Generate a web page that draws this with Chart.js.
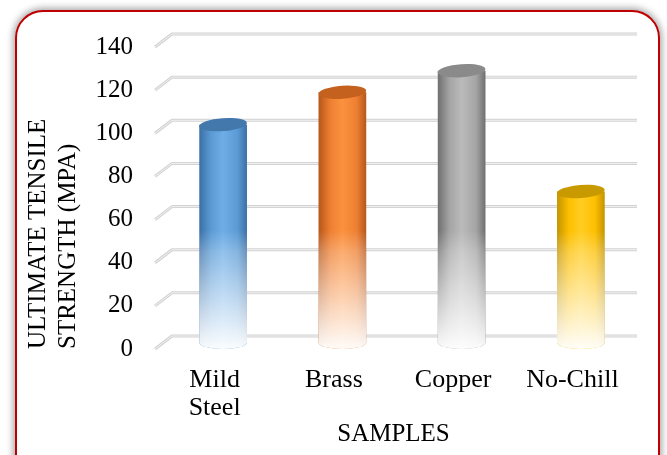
<!DOCTYPE html>
<html>
<head>
<meta charset="utf-8">
<script src="https://cdn.jsdelivr.net/npm/chart.js@4.4.0/dist/chart.umd.min.js"></script>
<style>
  html, body { margin: 0; padding: 0; background: #fff; overflow: hidden; }
  #wrap { position: relative; width: 667px; height: 455px; }
  #frame {
    position: absolute; left: 15px; top: 10px; width: 641px; height: 470px;
    border: 2px solid #c00000; border-radius: 28px; background: #fff;
    box-shadow: 0 0 7px 2px rgba(0,0,0,0.35);
  }
  #chart { position: absolute; left: 0; top: 0; }
</style>
</head>
<body>
<div id="wrap">
  <div id="frame"></div>
  <canvas id="chart" width="667" height="455"></canvas>
</div>
<script>
var categories = [['Mild', 'Steel'], 'Brass', 'Copper', 'No-Chill'];
var strengths = [101, 116, 126, 70];
var yTicks = [0, 20, 40, 60, 80, 100, 120, 140];

// cylinder shades: edge, body, highlight, top
var shades = [
    ['#3b6fa6', '#5b9bd5', '#6eade6', '#4278ab'],
    ['#b5571a', '#ee7f32', '#fb923f', '#c4611f'],
    ['#6f6f6f', '#a5a5a5', '#bababa', '#8a8a8a'],
    ['#c49400', '#fdbf00', '#ffcd22', '#c89a00']
];

// floor depth: back plane is up/right of the front plane
var depthX = 17, depthY = -13;

var floorGrid = {
    id: 'floorGrid',
    beforeDatasetsDraw: function(chart) {
        var ctx = chart.ctx, area = chart.chartArea, y = chart.scales.y;
        ctx.save();
        ctx.lineJoin = 'round';
        yTicks.forEach(function(v) {
            var fy = y.getPixelForValue(v);
            var x0 = area.left, x1 = x0 + depthX, x2 = area.right + 5;
            ctx.beginPath();
            ctx.moveTo(x0, fy);
            ctx.lineTo(x1, fy + depthY);
            ctx.lineTo(x2, fy + depthY);
            ctx.strokeStyle = '#d2d2d2';
            ctx.lineWidth = 3;
            ctx.stroke();
            ctx.strokeStyle = '#f2f2f2';
            ctx.lineWidth = 1;
            ctx.stroke();
        });
        ctx.restore();
    }
};

var cylinders = {
    id: 'cylinders',
    afterDatasetsDraw: function(chart) {
        var ctx = chart.ctx, yScale = chart.scales.y;
        var meta = chart.getDatasetMeta(0);
        var fadeTop = yScale.getPixelForValue(52) + depthY / 2;
        meta.data.forEach(function(bar, i) {
            var p = bar.getProps(['x', 'y', 'base', 'width'], true);
            var s = shades[i];
            var cx = p.x + depthX / 2;
            var w = p.width, l = cx - w / 2, r = cx + w / 2;
            var top = p.y + depthY / 2, bot = p.base + depthY / 2;
            var ry = 6.5;
            var fy = Math.min(fadeTop, bot);

            ctx.save();
            ctx.beginPath();
            ctx.moveTo(l, top);
            ctx.lineTo(l, bot);
            ctx.ellipse(cx, bot, w / 2, ry, 0, Math.PI, 0, true);
            ctx.lineTo(r, top);
            ctx.closePath();
            var g = ctx.createLinearGradient(l, 0, r, 0);
            g.addColorStop(0, s[0]);
            g.addColorStop(0.25, s[1]);
            g.addColorStop(0.5, s[2]);
            g.addColorStop(0.8, s[1]);
            g.addColorStop(1, s[0]);
            ctx.fillStyle = g;
            ctx.fill();
            ctx.clip();
            var f = ctx.createLinearGradient(0, fy, 0, bot + ry);
            f.addColorStop(0, 'rgba(255,255,255,0)');
            f.addColorStop(0.18, 'rgba(255,255,255,0.25)');
            f.addColorStop(0.6, 'rgba(255,255,255,0.62)');
            f.addColorStop(1, 'rgba(255,255,255,0.97)');
            ctx.fillStyle = f;
            ctx.fillRect(l - 2, fy, w + 4, bot + ry - fy + 2);
            ctx.restore();

            ctx.save();
            ctx.beginPath();
            ctx.ellipse(cx, top, w / 2, ry, -0.07, 0, Math.PI * 2);
            ctx.fillStyle = s[3];
            ctx.fill();
            ctx.restore();
        });
    }
};

var serif = 'Liberation Serif';

new Chart(document.getElementById('chart').getContext('2d'), {
    type: 'bar',
    data: {
        labels: categories,
        datasets: [{
            label: 'Ultimate tensile strength',
            data: strengths,
            backgroundColor: 'rgba(0,0,0,0)',
            borderWidth: 0,
            barPercentage: 0.4,
            categoryPercentage: 1
        }]
    },
    options: {
        responsive: false,
        animation: false,
        devicePixelRatio: 1,
        layout: { padding: { top: 47, right: 35, left: 0, bottom: 0 } },
        plugins: { legend: { display: false }, tooltip: { enabled: false } },
        scales: {
            x: {
                grid: { display: false, drawTicks: false },
                border: { display: false },
                ticks: { color: '#000', padding: 17, font: { family: serif, size: 26, lineHeight: 1.08 } },
                title: { display: true, text: 'SAMPLES', color: '#000', padding: { top: 0, bottom: 6 },
                         font: { family: serif, size: 25 } },
                afterFit: function(scale) { scale.height = 106; }
            },
            y: {
                min: 0,
                max: 140,
                grid: { display: false, drawTicks: false },
                border: { display: false },
                afterBuildTicks: function(scale) {
                    scale.ticks = yTicks.map(function(v) { return { value: v }; });
                },
                ticks: { color: '#000', padding: 22, font: { family: serif, size: 25 } },
                title: { display: true, text: ['ULTIMATE TENSILE', 'STRENGTH (MPA)'], align: 'start',
                         color: '#000', padding: { top: 23, bottom: 0 },
                         font: { family: serif, size: 25, lineHeight: 1.2 } },
                afterFit: function(scale) { scale.width = 155; }
            }
        }
    },
    plugins: [floorGrid, cylinders]
});
</script>
</body>
</html>
